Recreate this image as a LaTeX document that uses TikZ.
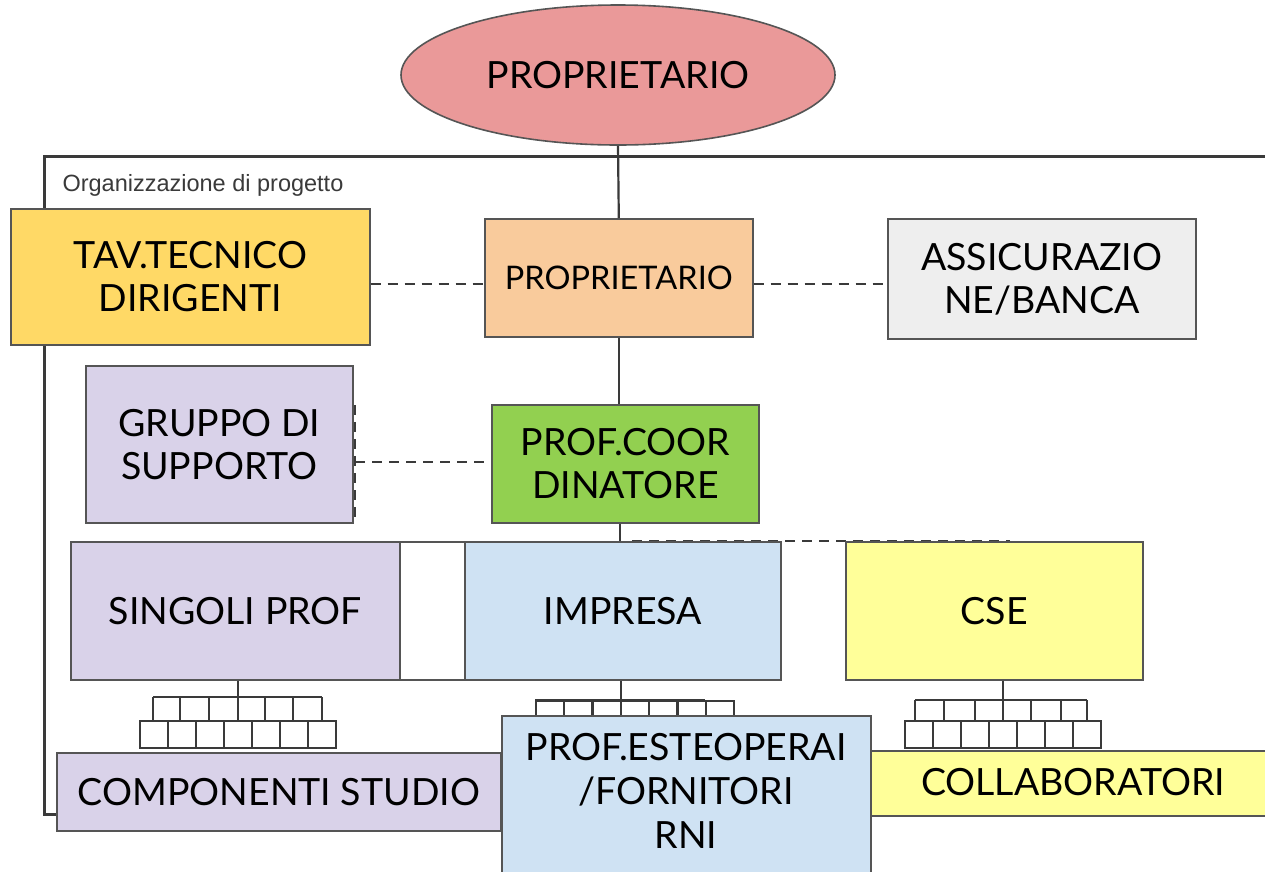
\documentclass[tikz,border=0pt]{standalone}
\usepackage{fontspec}
\setmainfont{Lato}
\newfontfamily\labelfont{Liberation Sans}
\usetikzlibrary{shapes.geometric}
\definecolor{edgegrey}{HTML}{555555}
\definecolor{frameg}{HTML}{3A3A3A}
\definecolor{ownerred}{HTML}{EA9999}
\definecolor{peach}{HTML}{F9CB9C}
\definecolor{gold}{HTML}{FFD966}
\definecolor{lightgrey}{HTML}{EEEEEE}
\definecolor{lilac}{HTML}{D9D2E9}
\definecolor{leaf}{HTML}{92D050}
\definecolor{skyblue}{HTML}{CFE2F3}
\definecolor{paleyellow}{HTML}{FFFF99}
\tikzset{
  bigtext/.style={font=\fontsize{37.5}{43}\selectfont},
  box/.style={draw=edgegrey, line width=1.6pt, rectangle, anchor=north west,
    inner sep=0pt, align=center, bigtext},
  link/.style={draw=frameg, line width=2.2pt},
  dlink/.style={draw=frameg, line width=2.6pt, dash pattern=on 10pt off 7pt},
  cell/.style={draw=frameg, line width=1.8pt, fill=white, rectangle, anchor=north west,
    inner sep=0pt, minimum width=28pt, minimum height=27pt},
}
\begin{document}
\begin{tikzpicture}[x=1pt,y=-1pt]
\useasboundingbox (0,0) rectangle (1265,871);
\clip (0,0) rectangle (1265,871);
\fill[white] (0,0) rectangle (1265,871);

% project frame
\draw[frameg, line width=3pt] (1275,156) -- (44,156) -- (44,814) -- (1275,814);
\node[anchor=west, text=frameg, font=\labelfont\fontsize{23.5}{26}\selectfont] (frametitle) at (59,185) {Organizzazione di progetto};

% owner at the top
\node[ellipse, draw=edgegrey, line width=1.6pt, fill=ownerred, minimum width=434pt,
  minimum height=140pt, inner sep=0pt, bigtext] (owner) at (618,75) {PROPRIETARIO};

% first level
\node[box, fill=peach, minimum width=268pt, minimum height=118pt, font=\fontsize{32.5}{38}\selectfont] (prop) at (484,218) {PROPRIETARIO};
\node[box, fill=gold, minimum width=359pt, minimum height=136pt] (tav) at (10,208) {TAV.TECNICO\\DIRIGENTI};
\node[box, fill=lightgrey, minimum width=308pt, minimum height=120pt] (ass) at (887,218) {ASSICURAZIO\\NE/BANCA};

% second level
\node[box, fill=lilac, minimum width=267pt, minimum height=157pt] (grp) at (85,365) {GRUPPO DI\\SUPPORTO};
\node[box, fill=leaf, minimum width=267pt, minimum height=118pt] (coord) at (491,404) {PROF.COOR\\DINATORE};

% connectors of the upper part
\draw[link] (owner.south) -- (prop.north);
\draw[dlink] (tav.east |- 0,284) -- (prop.west |- 0,284);
\draw[dlink] (prop.east |- 0,284) -- (ass.west |- 0,284);
\draw[link] (prop.south) -- (prop.south |- coord.north);
\coordinate (gtop) at (355,405);
\coordinate (gbot) at (355,518);
\draw[dlink] (gtop) -- (gbot);
\draw[dlink] (355,462) -- (coord.west |- 0,462);
\coordinate (split) at (620,541);
\draw[link] (coord.south -| split) -- (split);
\coordinate (dashend) at (1010,541);
\draw[dlink] (632,541) -- (dashend);

% third level
\node[box, fill=white, minimum width=65pt, minimum height=138pt] (gap) at (399,541) {};
\node[box, fill=lilac, minimum width=329pt, minimum height=138pt] (sing) at (70,541) {SINGOLI PROF};
\node[box, fill=skyblue, minimum width=316pt, minimum height=138pt] (imp) at (464,541) {IMPRESA};
\node[box, fill=paleyellow, minimum width=297pt, minimum height=138pt] (cse) at (845,541) {CSE};

% small staff trees under each box
% left tree
\coordinate (lt) at (238,697);
\draw[link] (sing.south -| lt) -- (lt);
\draw[link] (153,697) -- (322,697);
\foreach \x in {153,180,209,238,265,293,322} \draw[link] (\x,697) -- (\x,720);
\foreach \x [count=\i] in {139,167,195,223,251,279,307} \node[cell] (lc\i) at (\x,720) {};
% middle tree
\coordinate (mt) at (621,700);
\draw[link] (imp.south -| mt) -- (mt);
\draw[link] (535,700) -- (705,700);
\foreach \x [count=\i] in {535,563,592,620,648,677,705} \node[cell] (mc\i) at (\x,700) {};
% right tree
\coordinate (rt) at (1003,700);
\draw[link] (cse.south -| rt) -- (rt);
\draw[link] (915,700) -- (1087,700);
\foreach \x in {915,944,975,1003,1031,1061,1087} \draw[link] (\x,700) -- (\x,720);
\foreach \x [count=\i] in {904,932,960,988,1016,1044,1072} \node[cell] (rc\i) at (\x,720) {};

% bottom level
\node[box, fill=lilac, minimum width=444pt, minimum height=78pt] (comp) at (56,752) {COMPONENTI STUDIO};
\node[box, fill=paleyellow, minimum width=420pt, minimum height=65pt] (coll) at (870,750) {};
\node[anchor=center, bigtext] (colltext) at (1073,782) {COLLABORATORI};
\node[box, fill=skyblue, minimum width=369pt, minimum height=170pt] (est) at (501,715) {};
\node[anchor=north, align=center, font=\fontsize{37.5}{44}\selectfont] (esttext) at (686,730) {PROF.ESTEOPERAI\\/FORNITORI\\RNI};
\end{tikzpicture}
\end{document}
